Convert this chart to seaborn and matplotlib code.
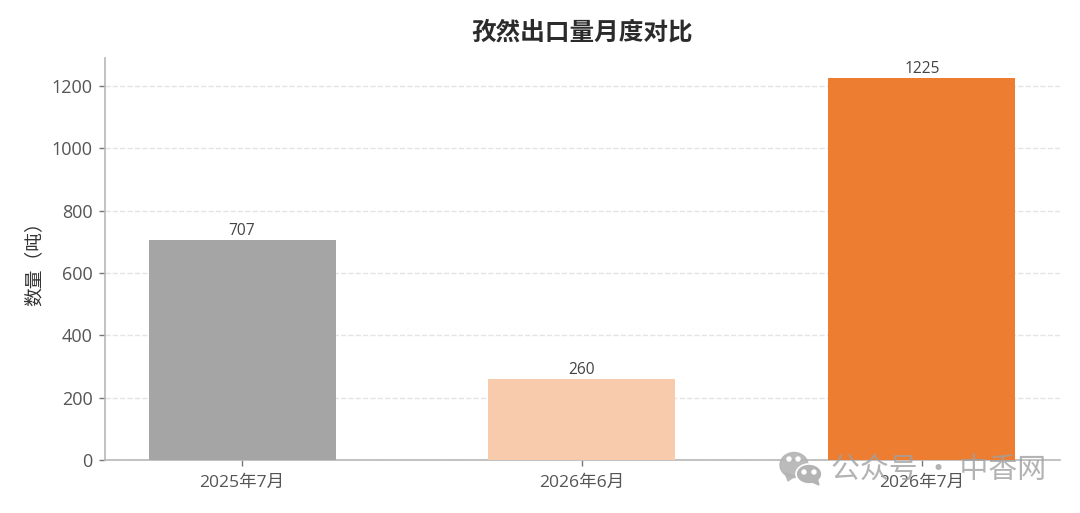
import matplotlib
matplotlib.use("Agg")
import matplotlib.pyplot as plt
from matplotlib.patches import Ellipse, Polygon
import seaborn as sns
import pandas as pd

categories = ["2025年7月", "2026年6月", "2026年7月"]
values = [707, 260, 1225]
colors = ["#A5A5A5", "#F8CBAD", "#ED7D31"]
title = "孜然出口量月度对比"
ylabel = "数量（吨）"
watermark = "公众号 · 中香网"

sns.set_theme(style="white")
plt.rcParams['font.family'] = ['Open Sans', 'Noto Sans CJK SC', 'DejaVu Sans']

W, H = 1080, 513
fig = plt.figure(figsize=(W/100, H/100), dpi=100)
ax = fig.add_axes([105/W, 1-460/H, (1060-105)/W, (460-58)/H])
df = pd.DataFrame({"m": categories, "v": values})
sns.barplot(data=df, x="m", y="v", hue="m", palette=colors, legend=False, width=0.55,
            ax=ax, saturation=1, zorder=3, linewidth=0)
ax.set_xlim(-0.403, 2.406)
ax.set_ylim(0, 1289)
ax.yaxis.grid(True, linestyle="--", color="#E4E4E4", linewidth=1.0, zorder=0)
ax.xaxis.grid(False)
ax.set_axisbelow(True)
for s in ["top", "right"]:
    ax.spines[s].set_visible(False)
for s in ["left", "bottom"]:
    ax.spines[s].set_color("#B8B8B8")
    ax.spines[s].set_linewidth(1.2)
ax.tick_params(axis="both", color="#777777", labelcolor="#555555", length=4, width=1, bottom=True, left=True)
ax.tick_params(axis="y", labelsize=13, pad=5)
ax.tick_params(axis="x", labelsize=12.6, pad=7)
ax.set_xlabel("")
ax.set_ylabel(ylabel, fontsize=13.5, color="#333333", labelpad=6)
for i, v in enumerate(values):
    ax.annotate(str(v), (i, v), xytext=(0, 0.5), textcoords="offset points", ha="center", va="bottom", fontsize=11.2, color="#444444")
fig.text(582/W, 1-33/H, title, ha="center", va="center", fontsize=17.7, fontweight="bold", color="#2B2B2B")

# WeChat-style watermark icon and text, placed in pixel positions of the figure
icon = "#B4B4B4"
def px(x, y):
    return x/W, 1-y/H
fig.add_artist(Ellipse(px(794, 465), 28/W, 25/H, color=icon, alpha=0.9, transform=fig.transFigure, zorder=5))
fig.add_artist(Polygon([px(785, 473), px(788, 481), px(795, 476)], color=icon, alpha=0.9, transform=fig.transFigure, zorder=5))
fig.add_artist(Ellipse(px(809, 474), 26/W, 20/H, facecolor=icon, edgecolor="white", linewidth=1.2, transform=fig.transFigure, zorder=6))
fig.add_artist(Polygon([px(812, 482), px(819, 485), px(817, 478)], color=icon, transform=fig.transFigure, zorder=6))
for (x, y) in [(789, 459), (798, 459), (804, 472), (814, 472)]:
    fig.add_artist(Ellipse(px(x, y), 4/W, 4/H, color="white", transform=fig.transFigure, zorder=7))
fig.text(938.5/W, 1-470/H, watermark, ha="center", va="center", fontsize=20.8, color="#A0A0A0", alpha=0.8, zorder=8,
         family=['Noto Sans CJK SC', 'DejaVu Sans'])
fig.savefig("out.png", dpi=100)
